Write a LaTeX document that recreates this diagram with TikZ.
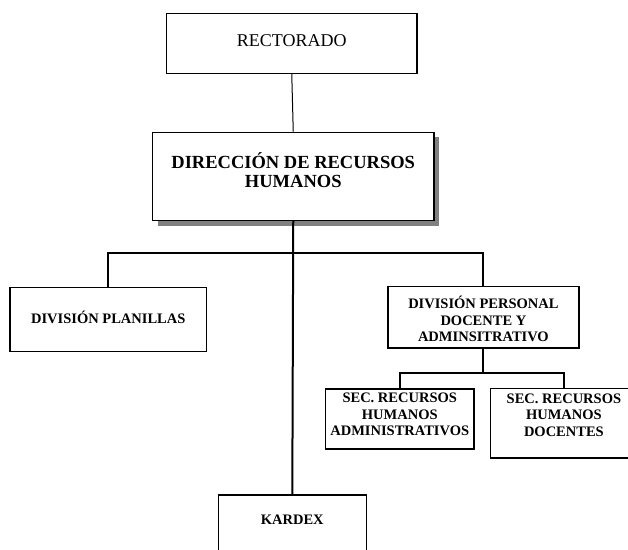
\documentclass[tikz,border=0pt]{standalone}
\usepackage{fontspec}
\setmainfont{Liberation Serif}
\usetikzlibrary{shadows}

\tikzset{
  orgbox/.style={draw=black, line width=1.2pt, fill=white, inner sep=0pt,
                 anchor=north west},
  boxtext/.style={inner sep=0pt, align=center},
  smalltxt/.style={boxtext, font=\fontsize{14.5}{16.6}\selectfont\bfseries},
  link/.style={line width=2pt},
  thinlink/.style={line width=1pt}
}

\begin{document}
\begin{tikzpicture}[x=1pt, y=-1pt]
  \useasboundingbox (0,0) rectangle (628,549);

  % boxes, placed by their top-left corners
  \node[orgbox, minimum width=250.3pt, minimum height=60pt] (rect) at (166,12.7) {};
  \node[orgbox, minimum width=281.3pt, minimum height=88.3pt,
        drop shadow={shadow xshift=5pt, shadow yshift=-5pt, fill=black!50, opacity=1}]
        (dir) at (152,131.7) {};
  \node[orgbox, minimum width=196.7pt, minimum height=64pt] (plan) at (9.3,286.7) {};
  \node[orgbox, minimum width=191pt, minimum height=61.3pt] (pers) at (387.3,286) {};
  \node[orgbox, minimum width=148.3pt, minimum height=60pt] (adm) at (325,388.3) {};
  \node[orgbox, minimum width=146.6pt, minimum height=69.3pt] (doc) at (490,388) {};
  \node[orgbox, minimum width=148pt, minimum height=70pt] (kar) at (217.7,494.3) {};

  % box captions
  \node[boxtext, font=\fontsize{18}{20}\selectfont, yshift=3pt] (rectT) at (rect.center) {RECTORADO};
  \node[boxtext, font=\fontsize{18.5}{19.4}\selectfont\bfseries, yshift=6pt] (dirT) at (dir.center)
        {DIRECCIÓN DE RECURSOS\\HUMANOS};
  \node[smalltxt, yshift=2pt] (planT) at (plan.center) {DIVISIÓN PLANILLAS};
  \node[smalltxt, yshift=-2pt] (persT) at (pers.center) {DIVISIÓN PERSONAL\\DOCENTE Y\\ADMINSITRATIVO};
  \node[smalltxt, yshift=4.5pt] (admT) at (adm.center) {SEC. RECURSOS\\HUMANOS\\ADMINISTRATIVOS};
  \node[smalltxt, yshift=8pt] (docT) at (doc.center) {SEC. RECURSOS\\HUMANOS\\DOCENTES};
  \node[smalltxt, yshift=10pt] (karT) at (kar.center) {KARDEX};

  % bus levels
  \coordinate (busA) at (0,253.3);
  \coordinate (busB) at (0,373.3);

  % connectors
  \draw[thinlink] (rect.south) -- (dir.north);
  \draw[link] (dir.south) -- (kar.north);
  \draw[link] (plan.north) |- (busA -| pers.north) -- (pers.north);
  \draw[link] (pers.south) -- (busB -| pers.south);
  \draw[link] (adm.north) |- (busB -| doc.north) -- (doc.north);
\end{tikzpicture}
\end{document}
